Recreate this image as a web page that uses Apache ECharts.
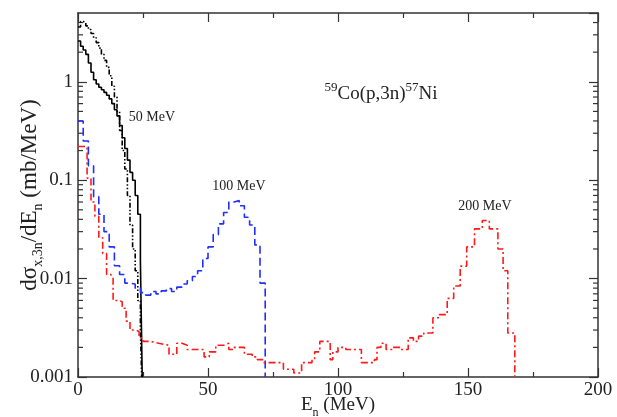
<!DOCTYPE html>
<html>
<head>
<meta charset="utf-8">
<script src="https://cdn.jsdelivr.net/npm/echarts@6/dist/echarts.min.js"></script>
<style>
  html, body { margin: 0; padding: 0; background: #fff; }
  #chart { width: 617px; height: 417px; }
</style>
</head>
<body>
<div id="chart"></div>
<script>
// 50 MeV, solid black (bin edges + bin values)
const solid50Edges = [0, 1, 2, 3, 4, 5, 6, 7, 8, 9, 10, 11, 12, 13, 14, 15, 16, 17, 18, 19, 20, 21, 22, 23, 24, 24.7]
const solid50Vals = [2.6, 2.3, 2.1, 1.9, 1.55, 1.25, 1.05, 0.95, 0.88, 0.83, 0.78, 0.73, 0.67, 0.6, 0.52, 0.45, 0.36, 0.27, 0.21, 0.16, 0.12, 0.1, 0.07, 0.045, 0.015]

// 50 MeV, black dash-dot-dot
const dot50Edges = [0, 1, 2, 3, 4, 5, 6, 7, 8, 9, 10, 11, 12, 13, 14, 15, 16, 17, 18, 19, 20, 21, 22, 23, 24, 24.5]
const dot50Vals = [3.6, 4.1, 4.0, 3.7, 3.4, 3.1, 2.8, 2.5, 2.2, 1.9, 1.65, 1.4, 1.15, 0.9, 0.7, 0.5, 0.32, 0.2, 0.13, 0.07, 0.035, 0.02, 0.012, 0.006, 0.003]

// 100 MeV, blue dashed
const blue100Edges = [0, 2, 4, 6, 8, 10, 12, 14, 16, 18, 20, 22, 24, 26, 28, 30, 32, 34, 36, 38, 40, 42, 44, 46, 48, 50, 52, 54, 56, 58, 60, 62, 64, 66, 68, 70, 72]
const blue100Vals = [0.4, 0.25, 0.14, 0.068, 0.045, 0.03, 0.021, 0.0135, 0.011, 0.009, 0.0088, 0.008, 0.0072, 0.0068, 0.0074, 0.007, 0.0075, 0.0079, 0.0074, 0.0082, 0.0088, 0.0095, 0.0105, 0.012, 0.016, 0.021, 0.028, 0.036, 0.047, 0.06, 0.062, 0.055, 0.042, 0.035, 0.022, 0.009]

// 200 MeV, red dash-dot
const red200Edges = [0, 3.5, 5, 6.5, 8, 9.5, 11, 12.5, 13.5, 16, 17, 18.5, 20, 22, 23.5, 25, 28, 31, 35, 38, 40, 42, 47, 48.5, 50.5, 53, 56, 58, 60, 64, 67, 69, 71, 79, 83, 86, 90, 91, 93, 97, 98, 100, 103, 109, 114, 115, 116.5, 118.5, 121, 124, 127, 129, 131, 133, 136.5, 139, 142, 144.5, 147, 149.5, 152.5, 155.5, 158.2, 161.5, 163.5, 165.3, 168]
const red200Vals = [0.22, 0.105, 0.06, 0.043, 0.026, 0.018, 0.011, 0.0105, 0.006, 0.0058, 0.005, 0.0037, 0.003, 0.0029, 0.0025, 0.0023, 0.0022, 0.0021, 0.0017, 0.0022, 0.0021, 0.0019, 0.0019, 0.0016, 0.0018, 0.0021, 0.0022, 0.0019, 0.002, 0.0017, 0.0016, 0.0015, 0.0014, 0.0012, 0.0011, 0.0014, 0.0015, 0.0018, 0.0023, 0.0015, 0.0018, 0.002, 0.0019, 0.0014, 0.0015, 0.002, 0.0022, 0.0019, 0.002, 0.0019, 0.0025, 0.0023, 0.0026, 0.0028, 0.004, 0.0043, 0.0063, 0.0084, 0.0134, 0.021, 0.032, 0.039, 0.032, 0.02, 0.012, 0.0028]

// axes
const yMin = 0.001
const yMax = 5
const xTicks = [0, 50, 100, 150, 200]
const yTickLabels = ['0.001', '0.01', '0.1', '1']
const yMinorTicks = [
  0.002, 0.003, 0.004, 0.005, 0.006, 0.007, 0.008, 0.009,
  0.02, 0.03, 0.04, 0.05, 0.06, 0.07, 0.08, 0.09,
  0.2, 0.3, 0.4, 0.5, 0.6, 0.7, 0.8, 0.9,
  2, 3, 4
]

const serif = 'Liberation Serif'
const axisColor = '#333'

// 直方图 -> 阶梯线数据，最后一格落到坐标轴底部
function histData(edges, vals) {
  const d = vals.map((v, i) => [edges[i], v])
  d.push([edges[edges.length - 1], yMin])
  return d
}

function histSeries(name, edges, vals, color, dash) {
  return {
    name,
    type: 'line',
    step: 'end',
    symbol: 'none',
    silent: true,
    data: histData(edges, vals),
    lineStyle: { color, width: 1.6, type: dash },
  }
}

const chart = echarts.init(document.getElementById('chart'))

const xAxisBase = {
  type: 'value',
  min: xTicks[0],
  max: xTicks[xTicks.length - 1],
  interval: 50,
  splitLine: { show: false },
  axisLine: { onZero: false, lineStyle: { color: axisColor, width: 1.5 } },
  axisTick: { inside: true, length: 9, lineStyle: { color: axisColor, width: 1.2 } },
  minorTick: { show: true, splitNumber: 2, length: 5, lineStyle: { color: axisColor, width: 1.2 } },
}
const yAxisBase = {
  type: 'log',
  logBase: 10,
  min: yMin,
  max: yMax,
  splitLine: { show: false },
  axisLine: { onZero: false, lineStyle: { color: axisColor, width: 1.5 } },
  axisTick: { inside: true, length: 9, lineStyle: { color: axisColor, width: 1.2 } },
}

chart.setOption({
  animation: false,
  grid: { left: 78, right: 19, top: 13, bottom: 40, containLabel: false, outerBoundsMode: 'none' },
  xAxis: [
    {
      ...xAxisBase,
      position: 'bottom',
      axisLabel: { color: '#222', fontFamily: serif, fontSize: 19, margin: 4 },
      name: '{a|E}{s|n}{a| (MeV)}',
      nameLocation: 'middle',
      nameGap: 19,
      nameMoveOverlap: false,
      nameTextStyle: {
        color: '#222',
        fontFamily: serif,
        rich: {
          a: { fontFamily: serif, fontSize: 19, lineHeight: 22, verticalAlign: 'top', color: '#222' },
          s: { fontFamily: serif, fontSize: 12, lineHeight: 12, padding: [12, 0, 0, 0], color: '#222' },
        },
      },
    },
    { ...xAxisBase, position: 'top', axisLabel: { show: false } },
  ],
  yAxis: [
    {
      ...yAxisBase,
      position: 'left',
      axisLabel: {
        color: '#222', fontFamily: serif, fontSize: 19, margin: 5,
        showMaxLabel: false,
        formatter: v => {
          const s = String(+v.toPrecision(3))
          return yTickLabels.includes(s) ? s : ''
        },
      },
      name: '{a|dσ}{s|x,3n}{a|/dE}{s|n}{a| (mb/MeV)}',
      nameLocation: 'middle',
      nameRotate: 90,
      nameGap: 34,
      nameMoveOverlap: false,
      nameTextStyle: {
        color: '#222',
        fontFamily: serif,
        rich: {
          a: { fontFamily: serif, fontSize: 23, lineHeight: 26, verticalAlign: 'top', color: '#222' },
          s: { fontFamily: serif, fontSize: 14, lineHeight: 14, padding: [14, 0, 0, 0], color: '#222' },
        },
      },
    },
    { ...yAxisBase, position: 'right', axisLabel: { show: false } },
  ],
  series: [
    histSeries('50 MeV', solid50Edges, solid50Vals, '#000', 'solid'),
    histSeries('50 MeV b', dot50Edges, dot50Vals, '#000', [5, 2, 1.5, 2, 1.5, 2]),
    histSeries('100 MeV', blue100Edges, blue100Vals, '#1f2fff', [8, 4]),
    histSeries('200 MeV', red200Edges, red200Vals, '#ff1a1a', [7, 3, 2, 3]),
    {
      // 对数轴小刻度（左右两侧）
      type: 'custom',
      silent: true,
      clip: false,
      data: yMinorTicks.map(v => [0, v]),
      renderItem(params, api) {
        const v = api.value(1)
        const l = api.coord([xTicks[0], v])
        const r = api.coord([xTicks[xTicks.length - 1], v])
        const style = { stroke: axisColor, lineWidth: 1.2 }
        return {
          type: 'group',
          children: [
            { type: 'line', shape: { x1: l[0], y1: l[1], x2: l[0] + 5, y2: l[1] }, style },
            { type: 'line', shape: { x1: r[0] - 5, y1: r[1], x2: r[0], y2: r[1] }, style },
          ],
        }
      },
    },
  ],
  graphic: [
    {
      type: 'text',
      x: 381,
      y: 91,
      style: {
        text: '{s|59}{a|Co(p,3n)}{s|57}{a|Ni}',
        align: 'center',
        verticalAlign: 'middle',
        fill: '#222',
        rich: {
          a: { fontFamily: serif, fontSize: 19, lineHeight: 22, padding: [6, 0, 0, 0], fill: '#222' },
          s: { fontFamily: serif, fontSize: 13, lineHeight: 12, padding: [5, 0, 11, 0], fill: '#222' },
        },
      },
    },
    {
      type: 'text', x: 152, y: 117,
      style: { text: '50 MeV', fontFamily: serif, fontSize: 14, fill: '#222', align: 'center', verticalAlign: 'middle' },
    },
    {
      type: 'text', x: 239, y: 186,
      style: { text: '100 MeV', fontFamily: serif, fontSize: 14, fill: '#222', align: 'center', verticalAlign: 'middle' },
    },
    {
      type: 'text', x: 485, y: 206,
      style: { text: '200 MeV', fontFamily: serif, fontSize: 14, fill: '#222', align: 'center', verticalAlign: 'middle' },
    },
  ],
})
</script>
</body>
</html>
